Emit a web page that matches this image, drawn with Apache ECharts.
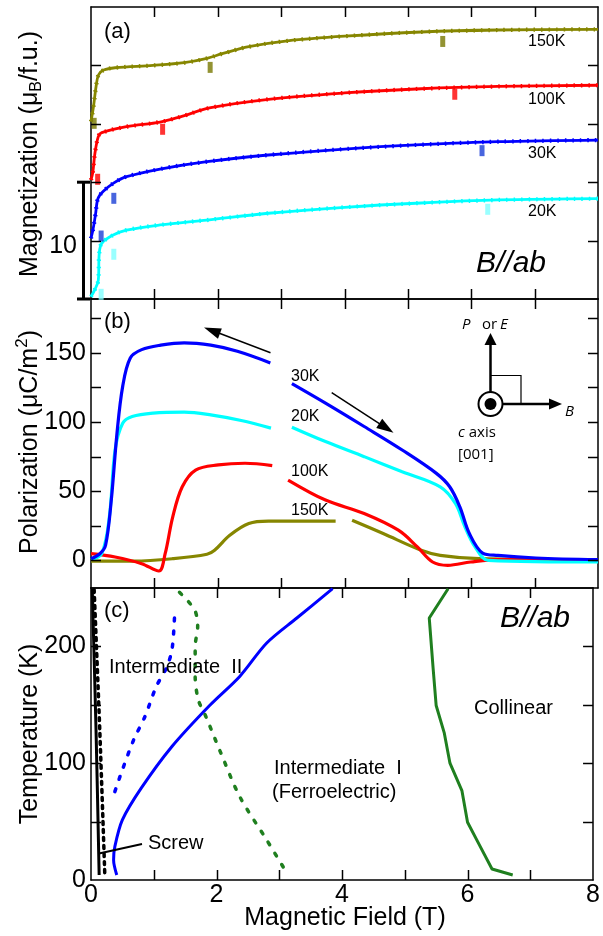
<!DOCTYPE html>
<html>
<head>
<meta charset="utf-8">
<script src="https://cdn.jsdelivr.net/npm/echarts@6/dist/echarts.min.js"></script>
<style>
  html, body { margin: 0; padding: 0; background: #ffffff; }
  #chart { width: 603px; height: 936px; }
</style>
</head>
<body>
<div id="chart"></div>
<script>
// ---------- (a) Magnetization vs field, curves offset vertically (field in T) ----------
const mag20K  = [[0,0.2],[0.06,0.8],[0.115,1.6],[0.13,3.9],[0.17,4.77],[0.35,5.48],[0.56,5.9],[1.09,6.34],[1.83,6.76],[2.8,7.34],[4.0,7.85],[5.21,8.22],[6.42,8.48],[8,8.59]];
const mag30K  = [[0,5.2],[0.03,5.9],[0.07,7.2],[0.11,8.6],[0.19,9.2],[0.35,9.9],[0.56,10.47],[1.09,11.13],[1.83,11.76],[2.8,12.33],[4.0,12.84],[5.21,13.21],[6.42,13.47],[8,13.61]];
const mag100K = [[0,10.2],[0.03,10.9],[0.06,12.4],[0.115,13.9],[0.17,14.24],[0.56,14.75],[1.09,15.15],[1.41,15.6],[1.89,16.38],[2.8,17.1],[4.0,17.64],[5.21,18.0],[6.42,18.2],[8,18.3]];
const mag150K = [[0,15.2],[0.04,16.5],[0.08,18.2],[0.12,19.2],[0.2,19.6],[0.38,19.8],[0.98,20.0],[1.47,20.23],[1.83,20.6],[2.07,21.0],[2.49,21.6],[3.1,22.1],[4.0,22.5],[5.21,22.86],[6.42,23.03],[8,23.09]];
// transition-field markers on each magnetization curve
const mark20K  = [[0.16,0.4],[0.36,3.83],[6.26,7.68]];
const mark30K  = [[0.16,5.39],[0.36,8.62],[6.17,12.7]];
const mark100K = [[0.105,10.25],[1.13,14.53],[5.74,17.53]];
const mark150K = [[0.05,15.04],[1.88,19.83],[5.55,22.05]];
const magScaleBar = [0, 10];

// ---------- (b) Polarization vs field (μC/m²): decreasing-field and increasing-field branches ----------
const pol30Down  = [[0,1.2],[0.14,4.8],[0.23,10.9],[0.32,43.5],[0.41,91.9],[0.5,125.8],[0.62,146.4],[0.8,152.4],[1.1,155.6],[1.47,157.3],[1.89,155.6],[2.31,151.2],[2.83,142.8]];
const pol30Up    = [[3.17,127.8],[3.7,113.7],[4.31,96.8],[4.91,79.8],[5.45,62.9],[5.66,53.2],[5.82,38.7],[5.97,19.4],[6.18,5.3],[6.42,3.6],[7.02,1.7],[8,0.5]];
const pol20Down  = [[0,0.5],[0.17,4.8],[0.29,31.5],[0.38,79.8],[0.5,99.2],[0.65,104],[0.98,106.5],[1.47,107.2],[1.89,105.2],[2.37,101.1],[2.84,95.6]];
const pol20Up    = [[3.17,96.3],[3.7,85.9],[4.31,75],[4.91,64.1],[5.51,53.2],[5.75,41.1],[5.9,24.2],[6.06,9.7],[6.27,0],[8,-1.2]];
const pol100Down = [[0,4.8],[0.38,2.4],[0.8,-2.4],[1.07,-7.7],[1.17,4.8],[1.29,31.5],[1.44,53.2],[1.65,65.3],[2.01,69],[2.43,70.2],[2.86,68.5]];
const pol100Up   = [[3.11,58.1],[3.7,43.6],[4.31,33.9],[4.85,21.8],[5.15,9.7],[5.39,-1.2],[5.63,-3.6],[5.99,-1.2],[6.42,0.5],[8,0.5]];
const pol150Down = [[0,-0.5],[0.68,-0.5],[1.29,1.2],[1.83,4.4],[1.95,7.3],[2.19,18.1],[2.49,26.6],[2.8,28.3],[3.86,28.3]];
const pol150Up   = [[4.12,29],[4.61,19.4],[5.21,7.3],[5.51,3.6],[6.12,1.2],[8,0]];

// ---------- (c) B-T phase diagram, B // ab ----------
const screwSolid   = [[0.02,249.4],[0.08,128.6],[0.13,4.3]];
const screwDotted  = [[0.05,248.6],[0.14,128],[0.22,4.3]];
const inter2Dotted = [[0.38,75.7],[0.5,94.3],[0.68,120],[0.86,140],[1.04,165.7],[1.2,181.4],[1.29,197],[1.33,224.3]];
const inter1Solid  = [[0.41,4.3],[0.36,17.1],[0.38,28.6],[0.5,51.4],[0.8,78.6],[1.29,114.3],[1.89,149.4],[2.37,174.3],[2.8,202.9],[3.28,224.3],[3.85,249.4]];
const greenDotted  = [[1.41,246.3],[1.65,231.4],[1.7,217.1],[1.66,200],[1.66,174.3],[1.71,154.3],[1.83,140],[2.07,108.6],[2.37,71.4],[2.8,34.3],[3.14,4.3]];
const collinear    = [[5.69,249.4],[5.39,224.3],[5.45,182.3],[5.5,149.4],[5.63,125.7],[5.72,100],[5.91,76.6],[6.0,49.4],[6.18,30.9],[6.39,9.4],[6.72,4.3]];

// axis ranges, tick and label values
const fieldRange = [0, 8];
const fieldTicks = [1, 2, 3, 4, 5, 6, 7];
const fieldLabels = [0, 2, 4, 6, 8];
const magRange = [0, 25];
const magTicks = [5, 10, 15, 20];
const polRange = [-20, 189];
const polTicks = [0, 25, 50, 75, 100, 125, 150, 175];
const polLabels = [0, 50, 100, 150];
const tempRange = [0, 250];
const tempTicks = [50, 100, 150, 200];
const tempLabels = [0, 100, 200];

const C = {
  olive: '#868600', red: '#ff0000', blue: '#0000ff', cyan: '#00ffff',
  oliveMk: '#787800', redMk: '#ff0000', blueMk: '#1a3fd6', cyanMk: '#80ffff',
  green: '#1f7f1f', black: '#000000'
};
const FONT = "'Liberation Sans', Arial, sans-serif";
const SANS2 = "'Open Sans', 'Noto Sans', sans-serif";

const chart = echarts.init(document.getElementById('chart'), null, { renderer: 'canvas' });

const grids = [
  { left: 91, right: 5, top: 7, height: 292 },
  { left: 91, right: 5, top: 299, height: 289 },
  { left: 91, right: 5, top: 588, height: 292 }
];

function frameAxisX(gi, pos, withLabels) {
  return {
    type: 'value', gridIndex: gi, position: pos, min: fieldRange[0], max: fieldRange[1], interval: 1,
    axisLine: { show: true, onZero: false, lineStyle: { color: '#000', width: 1.5 } },
    axisTick: { show: false },
    splitLine: { show: false },
    axisLabel: withLabels ? {
      show: true, margin: 3, color: '#000', fontFamily: FONT, fontSize: 25,
      formatter: v => fieldLabels.indexOf(v) >= 0 ? String(v) : ''
    } : { show: false }
  };
}
function frameAxisY(gi, pos, range, interval, labelCfg) {
  const ax = {
    type: 'value', gridIndex: gi, position: pos, min: range[0], max: range[1],
    axisLine: { show: true, onZero: false, lineStyle: { color: '#000', width: 1.5 } },
    axisTick: { show: false },
    splitLine: { show: false },
    axisLabel: labelCfg ? Object.assign({ show: true, margin: 5, color: '#000', fontFamily: FONT, fontSize: 25 }, labelCfg) : { show: false }
  };
  if (interval) ax.interval = interval;
  return ax;
}

const xAxis = [
  frameAxisX(0, 'bottom', false), frameAxisX(0, 'top', false),
  frameAxisX(1, 'bottom', false), frameAxisX(1, 'top', false),
  frameAxisX(2, 'bottom', true),  frameAxisX(2, 'top', false)
];
const yAxis = [
  frameAxisY(0, 'left', magRange, 5, null),
  frameAxisY(0, 'right', magRange, 5, null),
  frameAxisY(1, 'left', polRange, null, { customValues: polLabels }),
  frameAxisY(1, 'right', polRange, null, null),
  frameAxisY(2, 'left', tempRange, 50, { formatter: v => tempLabels.indexOf(v) >= 0 ? String(v) : '' }),
  frameAxisY(2, 'right', tempRange, 50, null)
];

function line(data, color, xi, yi, width, extra) {
  return Object.assign({
    type: 'line', data: data, xAxisIndex: xi, yAxisIndex: yi, showSymbol: false, symbol: 'none',
    smooth: 0.35, silent: true, animation: false,
    lineStyle: { color: color, width: width }
  }, extra || {});
}
// beaded overlay tracing the measured sweep points on the magnetization curves
function beads(data, color) {
  return line(data, color, 0, 0, 4.2, { z: 3, lineStyle: { color: color, width: 4.2, type: [1.5, 6], cap: 'butt' } });
}
function marks(data, color) {
  return {
    type: 'scatter', data: data, xAxisIndex: 0, yAxisIndex: 0, symbol: 'rect', symbolSize: [5, 11],
    itemStyle: { color: color }, silent: true, animation: false, z: 5
  };
}
function dotted(data, color, dash, width, smooth) {
  return line(data, color, 4, 4, width, { smooth: smooth, lineStyle: { color: color, width: width, type: dash, cap: 'round' } });
}

const series = [
  // (a)
  line(mag20K, C.cyan, 0, 0, 2.8), line(mag30K, C.blue, 0, 0, 2.8),
  line(mag100K, C.red, 0, 0, 2.8), line(mag150K, C.olive, 0, 0, 2.8),
  beads(mag20K, C.cyan), beads(mag30K, C.blue), beads(mag100K, C.red), beads(mag150K, C.olive),
  marks(mark20K, C.cyanMk), marks(mark30K, C.blueMk), marks(mark100K, C.redMk), marks(mark150K, C.oliveMk),
  // (b)
  line(pol150Down, C.olive, 2, 2, 3.2), line(pol150Up, C.olive, 2, 2, 3.2),
  line(pol100Down, C.red, 2, 2, 3.2), line(pol100Up, C.red, 2, 2, 3.2),
  line(pol20Down, C.cyan, 2, 2, 3.2), line(pol20Up, C.cyan, 2, 2, 3.2),
  line(pol30Down, C.blue, 2, 2, 3.2), line(pol30Up, C.blue, 2, 2, 3.2),
  // (c)
  line(screwSolid, C.black, 4, 4, 3, { smooth: 0.3 }),
  dotted(screwDotted, C.black, [3, 5], 3.5, 0.3),
  dotted(inter2Dotted, C.blue, [3, 10], 3.5, 0.3),
  line(inter1Solid, C.blue, 4, 4, 3, { smooth: 0.3 }),
  dotted(greenDotted, C.green, [3, 10], 3.5, 0.3),
  line(collinear, C.green, 4, 4, 3, { smooth: false })
];

chart.setOption({
  animation: false,
  backgroundColor: '#ffffff',
  grid: grids,
  xAxis: xAxis,
  yAxis: yAxis,
  series: series
});

// ---------- inward tick marks on all four sides of each panel ----------
const TICK = 10;
function panelTicks(xi, yi, xRange, yRange, xTicks, yTicks) {
  const x0 = chart.convertToPixel({ xAxisIndex: xi }, xRange[0]);
  const x1 = chart.convertToPixel({ xAxisIndex: xi }, xRange[1]);
  const yb = chart.convertToPixel({ yAxisIndex: yi }, yRange[0]);
  const yt = chart.convertToPixel({ yAxisIndex: yi }, yRange[1]);
  const els = [];
  const st = { stroke: '#000', lineWidth: 1.5 };
  xTicks.forEach(v => {
    const px = Math.round(chart.convertToPixel({ xAxisIndex: xi }, v)) + 0.5;
    els.push({ type: 'line', z: 90, shape: { x1: px, y1: yb, x2: px, y2: yb - TICK }, style: st });
    els.push({ type: 'line', z: 90, shape: { x1: px, y1: yt, x2: px, y2: yt + TICK }, style: st });
  });
  yTicks.forEach(v => {
    const py = Math.round(chart.convertToPixel({ yAxisIndex: yi }, v)) + 0.5;
    els.push({ type: 'line', z: 90, shape: { x1: x0, y1: py, x2: x0 + TICK, y2: py }, style: st });
    els.push({ type: 'line', z: 90, shape: { x1: x1, y1: py, x2: x1 - TICK, y2: py }, style: st });
  });
  return els;
}

// ---------- annotations ----------
function txt(x, y, text, size, opts) {
  opts = opts || {};
  return {
    type: 'text', x: x, y: y, rotation: opts.rotation || 0, z: 100,
    style: {
      text: text, fill: opts.fill || '#000',
      font: (opts.italic ? 'italic ' : '') + size + 'px ' + (opts.family || FONT),
      align: opts.align || 'left', verticalAlign: 'middle',
      textAlign: opts.align || 'left', textVerticalAlign: 'middle',
      rich: opts.rich
    }
  };
}
function arrow(x1, y1, x2, y2, headLen, headHalf, width) {
  const dx = x2 - x1, dy = y2 - y1, L = Math.sqrt(dx * dx + dy * dy);
  const ux = dx / L, uy = dy / L, px = -uy, py = ux;
  const bx = x2 - ux * headLen, by = y2 - uy * headLen;
  return [
    { type: 'line', z: 100, shape: { x1: x1, y1: y1, x2: bx + ux * 2, y2: by + uy * 2 }, style: { stroke: '#000', lineWidth: width } },
    { type: 'polygon', z: 100, shape: { points: [[x2, y2], [bx + px * headHalf, by + py * headHalf], [bx - px * headHalf, by - py * headHalf]] }, style: { fill: '#000' } }
  ];
}

const yTitleRich = { fontFamily: FONT, fontSize: 25 };
const subRich = { fontFamily: FONT, fontSize: 16, padding: [14, 0, 0, 0] };
const supRich = { fontFamily: FONT, fontSize: 17, padding: [0, 0, 16, 0] };

// scale bar for panel (a), from the magnetization axis
const sbTop = chart.convertToPixel({ yAxisIndex: 0 }, magScaleBar[1]);
const sbBot = chart.convertToPixel({ yAxisIndex: 0 }, magScaleBar[0]);

const graphics = [
  ...panelTicks(0, 0, fieldRange, magRange, fieldTicks, magTicks),
  ...panelTicks(2, 2, fieldRange, polRange, fieldTicks, polTicks),
  ...panelTicks(4, 4, fieldRange, tempRange, fieldTicks, tempTicks),

  // axis titles
  txt(30, 154, '{n|Magnetization (μ}{s|B}{n|/f.u.)}', 25, { rotation: Math.PI / 2, align: 'center', rich: { n: yTitleRich, s: subRich } }),
  txt(30, 442, '{n|Polarization (μC/m}{p|2}{n|)}', 25, { rotation: Math.PI / 2, align: 'center', rich: { n: yTitleRich, p: supRich } }),
  txt(30, 734, 'Temperature (K)', 25, { rotation: Math.PI / 2, align: 'center' }),
  txt(345, 918, 'Magnetic Field (T)', 25, { align: 'center' }),

  // scale bar
  { type: 'line', z: 100, shape: { x1: 83.5, y1: sbTop, x2: 83.5, y2: sbBot }, style: { stroke: '#000', lineWidth: 3 } },
  { type: 'line', z: 100, shape: { x1: 77, y1: sbTop, x2: 90, y2: sbTop }, style: { stroke: '#000', lineWidth: 3 } },
  { type: 'line', z: 100, shape: { x1: 77, y1: sbBot, x2: 90, y2: sbBot }, style: { stroke: '#000', lineWidth: 3 } },
  txt(77, 246, '10', 25, { align: 'right' }),

  // panel (a)
  txt(104, 32, '(a)', 22),
  txt(528, 42, '150K', 16), txt(528, 100, '100K', 16), txt(528, 154, '30K', 16), txt(528, 212, '20K', 16),
  txt(476, 264, 'B//ab', 30, { italic: true }),

  // panel (b)
  txt(104, 322, '(b)', 22),
  txt(291, 377, '30K', 16), txt(291, 417, '20K', 16), txt(291, 472, '100K', 16), txt(291, 511, '150K', 16),
  ...arrow(270.5, 352.7, 204, 327.5, 17, 5.5, 1.5),
  ...arrow(331.7, 392.7, 393.5, 432.7, 17, 5.5, 1.5),

  // coordinate inset
  ...arrow(490.5, 392, 490.5, 333, 12, 6, 2.5),
  ...arrow(503, 404, 562, 404, 13, 5.5, 2.5),
  { type: 'polyline', z: 100, shape: { points: [[491, 375.5], [521, 375.5], [521, 404]] }, style: { stroke: '#000', lineWidth: 1.2, fill: null } },
  { type: 'circle', z: 101, shape: { cx: 490.5, cy: 404, r: 12 }, style: { fill: '#fff', stroke: '#000', lineWidth: 2 } },
  { type: 'circle', z: 102, shape: { cx: 490.5, cy: 404, r: 6 }, style: { fill: '#000' } },
  txt(462, 325, 'P', 15, { italic: true, family: SANS2 }),
  txt(482, 325, 'or', 15, { family: SANS2 }),
  txt(500, 325, 'E', 15, { italic: true, family: SANS2 }),
  txt(565, 412, 'B', 15, { italic: true, family: SANS2 }),
  txt(458, 433, '{i|c} axis', 15, { family: SANS2, rich: { i: { fontFamily: SANS2, fontSize: 15, fontStyle: 'italic' } } }),
  txt(458, 455, '[001]', 15, { family: SANS2 }),

  // panel (c)
  txt(104, 611, '(c)', 22),
  txt(500, 619, 'B//ab', 30, { italic: true }),
  txt(109, 667, 'Intermediate  II', 20),
  txt(474, 708, 'Collinear', 20),
  txt(274, 768, 'Intermediate  I', 20),
  txt(272, 792, '(Ferroelectric)', 20),
  txt(148, 843, 'Screw', 20),
  { type: 'line', z: 100, shape: { x1: 99, y1: 853.5, x2: 142, y2: 844 }, style: { stroke: '#000', lineWidth: 2 } }
];

chart.setOption({ graphic: { elements: graphics } });
</script>
</body>
</html>
